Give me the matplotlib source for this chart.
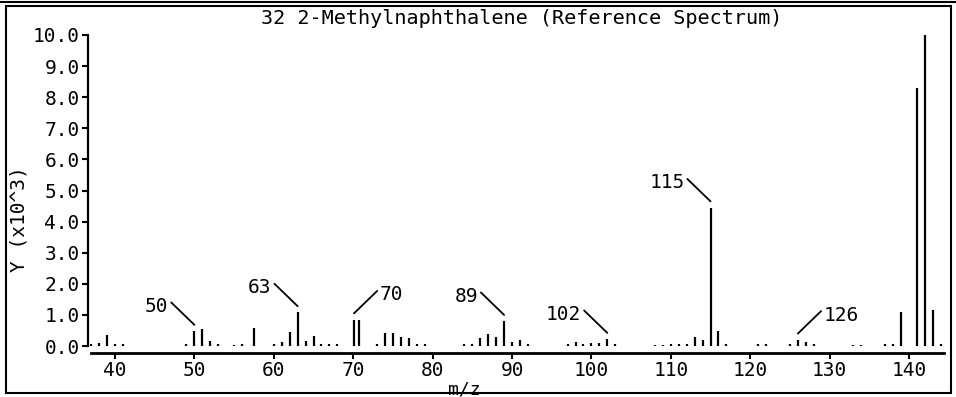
import matplotlib
matplotlib.use("Agg")
from matplotlib import pyplot as plt
from matplotlib.patches import Rectangle
from matplotlib.lines import Line2D

# peak list (m/z, intensity in thousands)
mz = [37, 38, 39, 40, 41,
      49, 50, 51, 52, 53,
      55, 56, 57.5,
      60, 61, 62, 63, 64, 65, 66, 67, 68,
      70.1, 70.7,
      73, 74, 75, 76, 77, 78, 79,
      84, 85, 86, 87, 88, 89, 90, 91, 92,
      97, 98, 99, 100, 101, 102, 103,
      108, 109, 110, 111, 112, 113, 114, 115, 116, 117,
      121, 122, 125, 126, 127, 128,
      133, 134, 137, 138, 139, 141, 142, 143, 144]
intensity = [0.06, 0.10, 0.35, 0.06, 0.05,
             0.05, 0.48, 0.55, 0.15, 0.07,
             0.04, 0.05, 0.58,
             0.05, 0.12, 0.45, 1.08, 0.15, 0.33, 0.08, 0.05, 0.05,
             0.85, 0.85,
             0.08, 0.42, 0.42, 0.28, 0.25, 0.05, 0.05,
             0.05, 0.08, 0.25, 0.38, 0.30, 0.80, 0.12, 0.18, 0.05,
             0.05, 0.12, 0.08, 0.10, 0.10, 0.22, 0.05,
             0.04, 0.04, 0.07, 0.07, 0.05, 0.30, 0.20, 4.45, 0.48, 0.06,
             0.05, 0.05, 0.06, 0.20, 0.12, 0.05,
             0.04, 0.04, 0.05, 0.06, 1.10, 8.30, 10.0, 1.16, 0.05]

# labelled peaks: m/z, label, direction (-1 text up-left, +1 text up-right)
label_mz = [50, 63, 70.1, 89, 102, 115, 126]
label_txt = ["50", "63", "70", "89", "102", "115", "126"]
label_dir = [-1, -1, 1, -1, -1, -1, 1]

xticks = [40, 50, 60, 70, 80, 90, 100, 110, 120, 130, 140]
yticks = [0, 1, 2, 3, 4, 5, 6, 7, 8, 9, 10]

plt.rcParams['font.family'] = ["DejaVu Sans Mono"]
plt.rcParams['font.size'] = 14

W, H = 956, 397
fig = plt.figure(figsize=(W / 100, H / 100), dpi=100)
ax = fig.add_axes([88 / W, 1 - 353 / H, (944 - 88) / W, (353 - 35) / H])

ax.vlines(mz, 0, intensity, color="black", lw=1.6, clip_on=False)

ax.set_xlim(36.6, 144.4)
ax.set_ylim(-0.225, 10.0)
ax.set_xticks(xticks)
ax.set_yticks(yticks)
ax.set_yticklabels(["%.1f" % v for v in yticks])
ax.tick_params(axis="both", direction="out", length=4, width=1.5, colors="black",
               labelsize=14, pad=2)

for s in ["top", "right"]:
    ax.spines[s].set_visible(False)
ax.spines["left"].set_bounds(0, 10)
ax.spines["left"].set_linewidth(1.6)
ax.spines["bottom"].set_linewidth(2)
ax.spines["bottom"].set_bounds(37, 144.4)

ax.set_xlabel("m/z", fontsize=13)
ax.xaxis.set_label_coords(0.44, -0.085)
ax.set_ylabel("Y (x10^3)", fontsize=14)
ax.yaxis.set_label_coords(-0.07, 0.42)

fig.text(522 / W, 1 - 19 / H, "32 2-Methylnaphthalene (Reference Spectrum)",
         ha="center", va="center", fontsize=14.5)

# leader line starts ~7 px above the peak and runs at ~45 degrees to the label
for m, t, d in zip(label_mz, label_txt, label_dir):
    h = intensity[mz.index(m)]
    ax.annotate(t, xy=(m, h + 0.2), xytext=(26 * d, 28), textcoords="offset pixels",
                xycoords="data", ha="right" if d < 0 else "left", va="top",
                fontsize=14,
                arrowprops=dict(arrowstyle="-", lw=1.3, color="black",
                                shrinkA=0, shrinkB=0,
                                relpos=(1, 0.85) if d < 0 else (0, 0.85)))

# outer frame like the screen capture
fig.patches.append(Rectangle((6 / W, 4 / H), (951 - 6) / W, (391 - 4) / H,
                             transform=fig.transFigure, fill=False,
                             lw=1.5, edgecolor="black"))
fig.lines.append(Line2D([0, 1], [1 - 1.5 / H, 1 - 1.5 / H],
                        transform=fig.transFigure, color="black", lw=1.5))

fig.savefig("out.png", dpi=100)
